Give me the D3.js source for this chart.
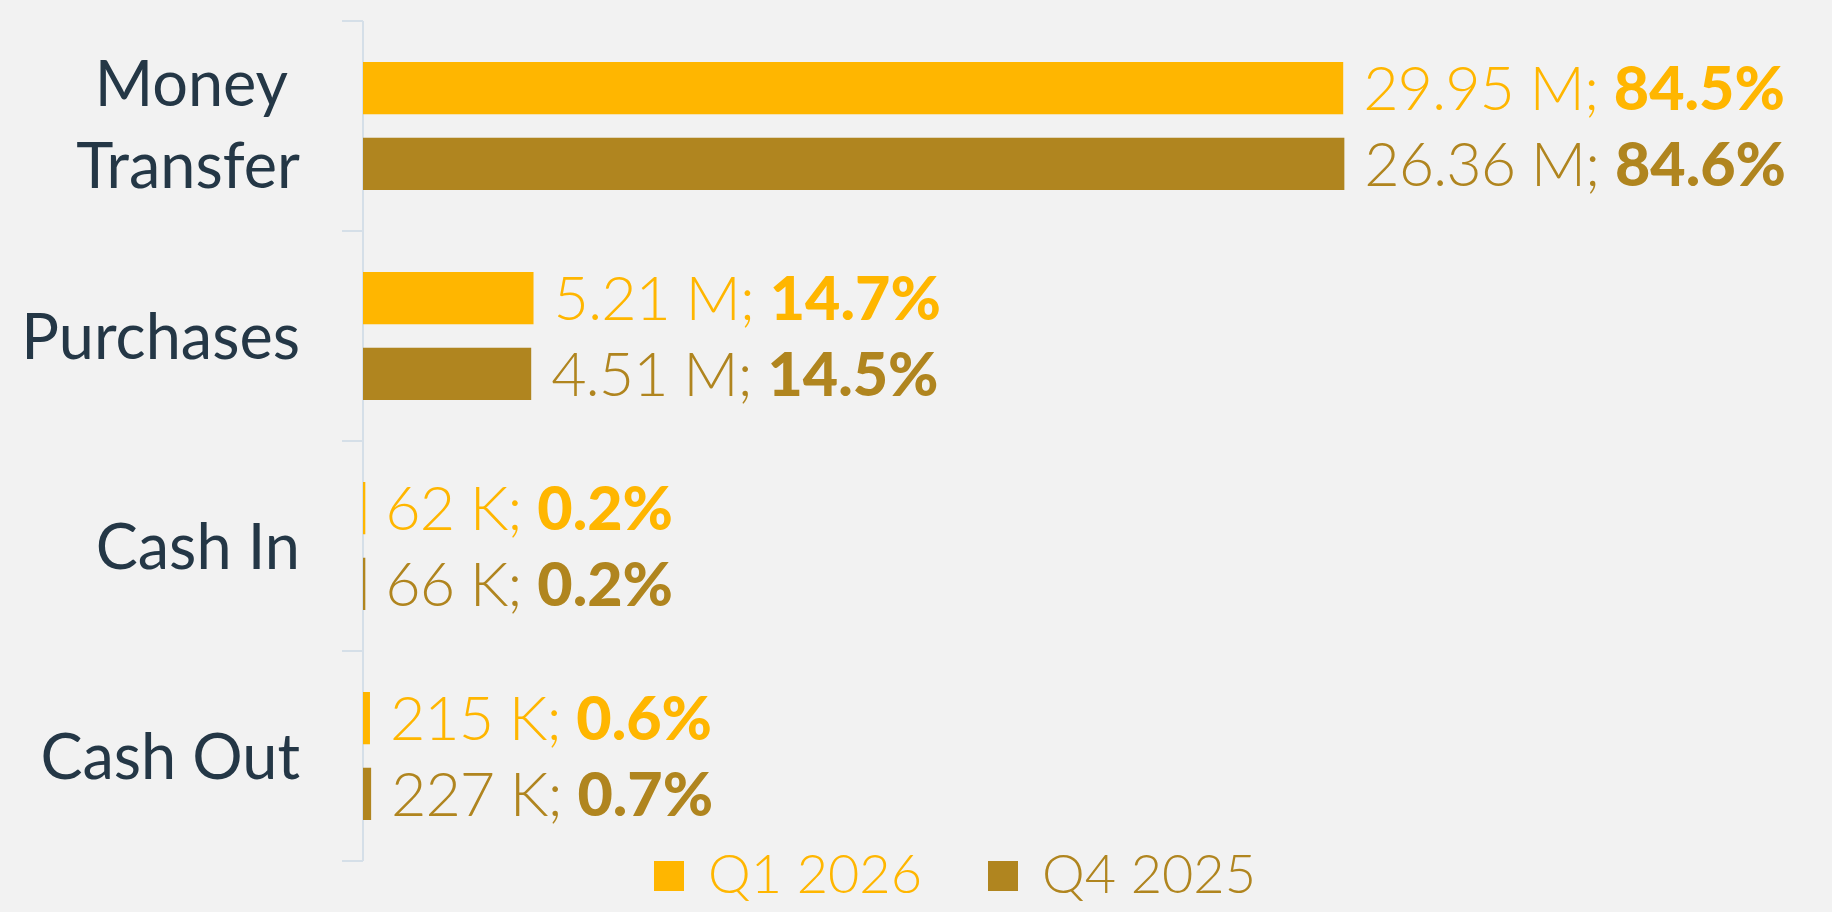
<!DOCTYPE html>
<html>
<head>
<meta charset="utf-8">
<script src="https://cdn.jsdelivr.net/npm/d3@7"></script>
<style>
  html, body { margin: 0; padding: 0; background: #f2f2f2; }
  svg { display: block; font-family: "Lato", "Open Sans", sans-serif; }
</style>
</head>
<body>
<svg id="chart" width="1832" height="912"></svg>
<script>
const categories = ["Money Transfer", "Purchases", "Cash In", "Cash Out"];
const series = ["Q1 2026", "Q4 2025"];
const q1Amounts = ["29.95 M", "5.21 M", "62 K", "215 K"];
const q4Amounts = ["26.36 M", "4.51 M", "66 K", "227 K"];
const q1Share = [84.5, 14.7, 0.2, 0.6];
const q4Share = [84.6, 14.5, 0.2, 0.7];

const colors = { "Q1 2026": "#ffb600", "Q4 2025": "#b0851f" };

const rows = [];
categories.forEach((c, i) => {
  rows.push({ cat: c, s: series[0], share: q1Share[i], amount: q1Amounts[i] });
  rows.push({ cat: c, s: series[1], share: q4Share[i], amount: q4Amounts[i] });
});

const svg = d3.select("#chart");
const axisX = 363;

const x = d3.scaleLinear().domain([0, 100]).range([axisX, axisX + 1160]);
const y = d3.scaleBand().domain(categories).range([21, 861]);
const yInner = d3.scaleBand().domain(series).range([41, 169]).paddingInner(0.31);

// axis with ticks at band edges
const axisColor = "#d5dfe8";
svg.append("line")
  .attr("x1", axisX).attr("x2", axisX)
  .attr("y1", y.range()[0]).attr("y2", y.range()[1])
  .attr("stroke", axisColor).attr("stroke-width", 2);

const edges = categories.map(c => y(c)).concat([y.range()[1]]);
svg.append("g").selectAll("line")
  .data(edges)
  .enter()
  .append("line")
  .attr("x1", axisX - 21).attr("x2", axisX)
  .attr("y1", d => d).attr("y2", d => d)
  .attr("stroke", axisColor).attr("stroke-width", 2);

// category labels
svg.append("g").selectAll("text")
  .data(categories)
  .enter()
  .append("text")
  .attr("text-anchor", "end")
  .attr("fill", "#243746")
  .attr("font-size", 63)
  .each(function(d) {
    const t = d3.select(this);
    const cy = y(d) + y.bandwidth() / 2;
    if (d === "Money Transfer") {
      t.append("tspan").attr("x", 288).attr("y", cy - 20).text("Money");
      t.append("tspan").attr("x", 300).attr("y", cy + 62).text("Transfer");
    } else {
      t.attr("x", 300).attr("y", cy + 23).text(d);
    }
  });

// bars
svg.append("g").selectAll("rect")
  .data(rows)
  .enter()
  .append("rect")
  .attr("x", x(0))
  .attr("y", d => y(d.cat) + yInner(d.s))
  .attr("width", d => x(d.share) - x(0))
  .attr("height", yInner.bandwidth())
  .attr("fill", d => colors[d.s]);

// value labels
const lab = svg.append("g").selectAll("text")
  .data(rows)
  .enter()
  .append("text")
  .attr("x", d => x(d.share) + 20)
  .attr("y", d => y(d.cat) + yInner(d.s) + yInner.bandwidth() / 2 + 22)
  .attr("font-size", 61)
  .attr("fill", d => colors[d.s]);
lab.append("tspan").attr("font-weight", 300).attr("letter-spacing", -1).text(d => d.amount + "; ");
lab.append("tspan").attr("font-weight", 900).text(d => d.share.toFixed(1) + "%");

// legend
const legendX = [654, 988];
const lg = svg.append("g").selectAll("g")
  .data(series)
  .enter()
  .append("g")
  .attr("transform", (d, i) => `translate(${legendX[i]},861)`);
lg.append("rect").attr("width", 30).attr("height", 30).attr("fill", d => colors[d]);
lg.append("text")
  .attr("x", 54).attr("y", 32)
  .attr("font-size", 54)
  .attr("font-weight", 300)
  .attr("fill", d => colors[d])
  .text(d => d);
</script>
</body>
</html>
